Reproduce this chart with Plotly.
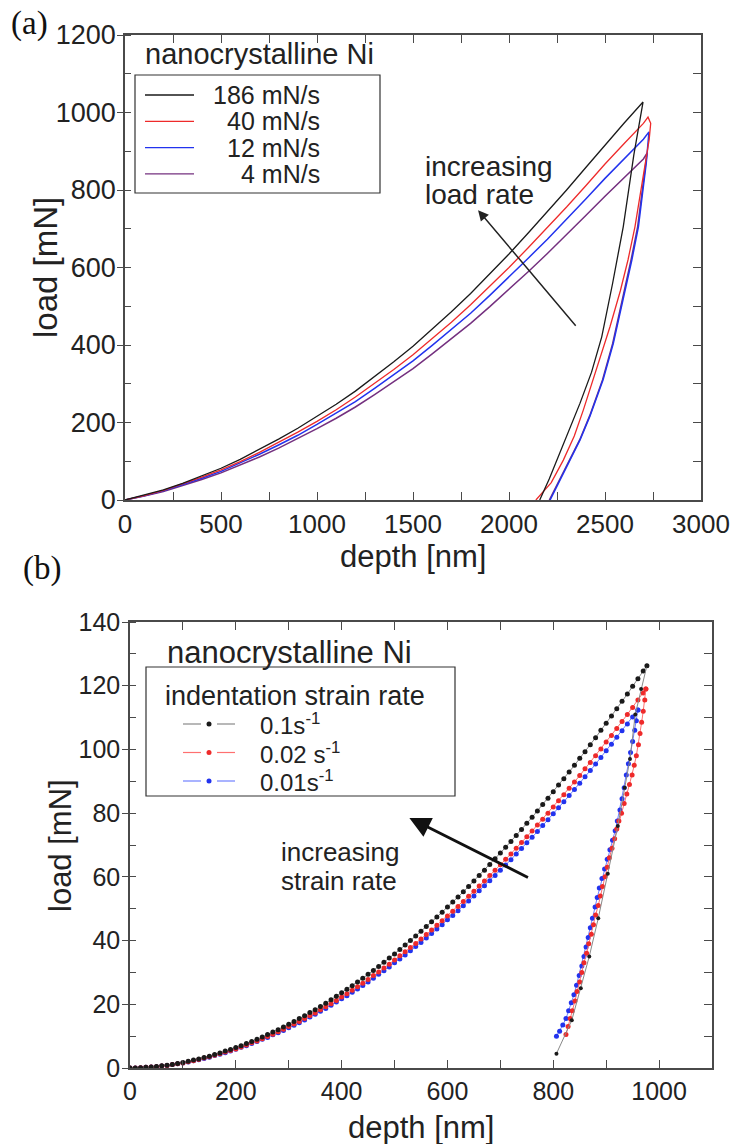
import plotly.graph_objects as go

W, H = 745, 1144

# ---------------- Panel (a) data: load–depth curves (nanocrystalline Ni) ----------------
A_BASE_DEPTH = [0, 100, 200, 300, 400, 500, 600, 700, 800, 900, 1000, 1100, 1200, 1300,
                1400, 1500, 1600, 1700, 1800, 1900, 2000, 2100, 2200, 2300, 2400, 2500, 2600]

A_BLACK_DEPTH = A_BASE_DEPTH + [2698, 2650, 2595, 2540, 2483, 2430, 2370, 2330, 2266, 2210, 2160]
A_BLACK_LOAD = [0, 12, 26, 43, 62, 82, 105, 130, 157, 185, 215, 247, 281, 318, 357, 397, 441,
                486, 533, 583, 635, 689, 744, 800, 858, 917, 973,
                1027, 890, 705, 560, 421, 330, 250, 200, 121, 55, 0]

A_RED_DEPTH = A_BASE_DEPTH + [2700, 2724, 2738, 2730, 2710, 2685, 2656, 2620, 2580, 2526,
                              2470, 2420, 2387, 2340, 2283, 2220, 2140]
A_RED_LOAD = [0, 11, 25, 41, 59, 78, 99, 123, 148, 175, 203, 233, 266, 301, 337, 375, 417,
              459, 504, 551, 600, 651, 703, 756, 811, 867, 920,
              972, 988, 972, 930, 870, 790, 705, 620, 540, 447, 360, 285, 232, 165, 103, 45, 0]

A_BLUE_DEPTH = A_BASE_DEPTH + [2700, 2729, 2715, 2695, 2674, 2640, 2600, 2543, 2490, 2422,
                               2370, 2318, 2265, 2214]
A_BLUE_LOAD = [0, 11, 24, 39, 56, 74, 95, 118, 142, 167, 195, 224, 254, 288, 323, 359, 399,
               440, 482, 528, 575, 624, 673, 724, 777, 830, 881,
               931, 950, 870, 790, 705, 620, 530, 404, 310, 217, 155, 103, 50, 0]

A_PURPLE_DEPTH = A_BASE_DEPTH + [2700, 2719, 2705, 2690, 2670, 2636, 2596, 2540, 2487, 2420,
                                 2368, 2315, 2262, 2210]
A_PURPLE_LOAD = [0, 10, 22, 37, 53, 70, 90, 111, 134, 158, 184, 211, 240, 272, 305, 339, 377,
                 416, 456, 499, 543, 589, 636, 684, 734, 784, 832,
                 880, 895, 840, 780, 705, 620, 530, 404, 310, 217, 155, 103, 50, 0]

A_LEGEND = ["186 mN/s", "40 mN/s", "12 mN/s", "4 mN/s"]

# ---------------- Panel (b) data ----------------
B_DEPTH = [0, 10, 20, 30, 40, 50, 60, 70, 80, 90,
           100, 110, 120, 130, 140, 150, 160, 170, 180, 190,
           200, 210, 220, 230, 240, 250, 260, 270, 280, 290,
           300, 310, 320, 330, 340, 350, 360, 370, 380, 390,
           400, 410, 420, 430, 440, 450, 460, 470, 480, 490,
           500, 510, 520, 530, 540, 550, 560, 570, 580, 590,
           600, 610, 620, 630, 640, 650, 660, 670, 680, 690,
           700, 710, 720, 730, 740, 750, 760, 770, 780, 790,
           800, 810, 820, 830, 840, 850, 860, 870, 880, 890,
           900, 910, 920, 930, 940, 950, 960, 970]

B_BLACK_LOAD = [0.0, 0.0, 0.1, 0.2, 0.3, 0.5, 0.7, 0.9, 1.1, 1.4,
                1.7, 2.1, 2.5, 2.8, 3.3, 3.7, 4.2, 4.7, 5.3, 5.8,
                6.4, 7.0, 7.7, 8.3, 9.0, 9.7, 10.5, 11.3, 12.0, 12.9,
                13.7, 14.6, 15.5, 16.4, 17.4, 18.3, 19.3, 20.3, 21.4, 22.5,
                23.6, 24.7, 25.8, 27.0, 28.2, 29.4, 30.6, 31.9, 33.2, 34.5,
                35.8, 37.2, 38.6, 40.0, 41.4, 42.9, 44.4, 45.9, 47.4, 48.9,
                50.5, 52.1, 53.7, 55.3, 57.0, 58.7, 60.4, 62.1, 63.9, 65.7,
                67.5, 69.3, 71.1, 73.0, 74.9, 76.8, 78.7, 80.7, 82.7, 84.7,
                86.7, 88.8, 90.8, 92.9, 95.0, 97.2, 99.3, 101.5, 103.7, 106.0,
                108.2, 110.5, 112.8, 115.1, 117.4, 119.8, 122.2, 124.6]
B_BLACK_PEAK_DEPTH = [977]
B_BLACK_PEAK_LOAD = [126.3]

B_RED_LOAD = [0.0, 0.0, 0.1, 0.2, 0.3, 0.4, 0.6, 0.8, 1.1, 1.3,
              1.6, 2.0, 2.3, 2.7, 3.1, 3.5, 4.0, 4.5, 5.0, 5.5,
              6.0, 6.6, 7.2, 7.9, 8.5, 9.2, 9.9, 10.6, 11.4, 12.2,
              13.0, 13.8, 14.6, 15.5, 16.4, 17.3, 18.3, 19.2, 20.2, 21.2,
              22.3, 23.3, 24.4, 25.5, 26.6, 27.8, 29.0, 30.1, 31.4, 32.6,
              33.9, 35.2, 36.5, 37.8, 39.1, 40.5, 41.9, 43.3, 44.8, 46.2,
              47.7, 49.2, 50.7, 52.3, 53.9, 55.5, 57.1, 58.7, 60.4, 62.1,
              63.8, 65.5, 67.2, 69.0, 70.8, 72.6, 74.4, 76.3, 78.1, 80.0,
              81.9, 83.9, 85.8, 87.8, 89.8, 91.8, 93.9, 95.9, 98.0, 100.1,
              102.3, 104.4, 106.6, 108.8, 111.0, 113.2, 115.5, 117.7]
B_RED_PEAK_DEPTH = [975]
B_RED_PEAK_LOAD = [119.0]

B_BLUE_LOAD = [0.0, 0.0, 0.1, 0.2, 0.3, 0.4, 0.6, 0.8, 1.1, 1.3,
               1.6, 1.9, 2.3, 2.6, 3.0, 3.4, 3.9, 4.3, 4.8, 5.3,
               5.9, 6.5, 7.0, 7.7, 8.3, 9.0, 9.6, 10.4, 11.1, 11.8,
               12.6, 13.4, 14.2, 15.1, 16.0, 16.9, 17.8, 18.7, 19.7, 20.7,
               21.7, 22.7, 23.8, 24.8, 25.9, 27.0, 28.2, 29.4, 30.5, 31.7,
               33.0, 34.2, 35.5, 36.8, 38.1, 39.4, 40.8, 42.2, 43.6, 45.0,
               46.5, 47.9, 49.4, 50.9, 52.4, 54.0, 55.6, 57.2, 58.8, 60.4,
               62.1, 63.7, 65.4, 67.2, 68.9, 70.7, 72.4, 74.2, 76.1, 77.9,
               79.8, 81.7, 83.6, 85.5, 87.4, 89.4, 91.4, 93.4, 95.4, 97.5,
               99.6, 101.6, 103.8, 105.9, 108.0, 110.2, 112.4]

B_BLACK_UNLOAD_DEPTH = [977, 966, 955, 945, 935, 922, 903, 885, 868, 852, 835, 806]
B_BLACK_UNLOAD_LOAD = [126.3, 119, 111, 97, 88, 76, 61, 47, 35, 25, 15, 4.5]

B_RED_UNLOAD_DEPTH = [975, 973, 970, 967, 964, 961, 957, 953, 949, 944, 939, 934, 929, 924,
                      920, 916, 911, 906, 902, 898, 893, 889, 885, 880, 876, 872, 867, 863,
                      858, 854, 850, 845, 841, 836, 832, 828, 824]
B_RED_UNLOAD_LOAD = [119.0, 115.5, 112, 108.5, 105, 101.5, 98, 95, 92, 89, 86, 83, 80, 77.5,
                     75, 72, 69, 66, 63, 60, 57, 54, 51, 48, 45, 42, 39, 36,
                     33, 30, 27, 24, 21, 18, 15.5, 13, 10.5]

B_BLUE_UNLOAD_DEPTH = [960, 957, 954, 950, 946, 942, 938, 934, 930, 926, 921, 917, 912, 907,
                       902, 897, 892, 887, 883, 879, 874, 870, 866, 862, 858, 854, 849, 844,
                       839, 834, 829, 824, 818, 812, 806]
B_BLUE_UNLOAD_LOAD = [112.4, 109, 106, 102.5, 99, 95.5, 92, 88, 84.5, 81, 77.5, 74.5, 71.5, 68.5,
                      65.5, 62.5, 59.5, 56.5, 53.5, 50.5, 47, 44, 41, 38, 35, 32, 29, 26,
                      23, 20.5, 18, 15.5, 13.5, 11.5, 10]

B_LEGEND = ["0.1s<sup>-1</sup>", "0.02 s<sup>-1</sup>", "0.01s<sup>-1</sup>"]

# ---------------- styling ----------------
FONT = "Liberation Sans, Arial, sans-serif"
SERIF = "Liberation Serif, Times New Roman, serif"
AX = "#4a4a4a"
C_BLACK = "#1a1a1a"
C_RED = "#ee2a2a"
C_BLUE = "#2233ee"
C_PURPLE = "#74307f"

fig = go.Figure()

# panel (a)
for xs, ys, c, w in [(A_PURPLE_DEPTH, A_PURPLE_LOAD, C_PURPLE, 1.5),
                     (A_BLUE_DEPTH, A_BLUE_LOAD, C_BLUE, 1.5),
                     (A_RED_DEPTH, A_RED_LOAD, C_RED, 1.3),
                     (A_BLACK_DEPTH, A_BLACK_LOAD, C_BLACK, 1.3)]:
    fig.add_trace(go.Scatter(x=xs, y=ys, mode="lines", line=dict(color=c, width=w),
                             xaxis="x", yaxis="y", showlegend=False, hoverinfo="skip"))

# panel (b)
def b_trace(xs, ys, lc, mc, ms=5):
    fig.add_trace(go.Scatter(x=xs, y=ys, mode="lines+markers",
                             line=dict(color=lc, width=1),
                             marker=dict(color=mc, size=ms),
                             xaxis="x2", yaxis="y2", showlegend=False, hoverinfo="skip"))

b_trace(B_DEPTH[:97], B_BLUE_LOAD, "#7080ff", C_BLUE)
b_trace(B_BLUE_UNLOAD_DEPTH, B_BLUE_UNLOAD_LOAD, "#7080ff", C_BLUE)
b_trace(B_DEPTH + B_RED_PEAK_DEPTH, B_RED_LOAD + B_RED_PEAK_LOAD, "#ff7070", C_RED)
b_trace(B_RED_UNLOAD_DEPTH, B_RED_UNLOAD_LOAD, "#ff7070", C_RED)
b_trace(B_DEPTH + B_BLACK_PEAK_DEPTH, B_BLACK_LOAD + B_BLACK_PEAK_LOAD, "#888888", C_BLACK)
b_trace(B_BLACK_UNLOAD_DEPTH, B_BLACK_UNLOAD_LOAD, "#888888", C_BLACK, 4)

# empty traces so the mirrored (top / right) tick axes are drawn
fig.add_trace(go.Scatter(x=[], y=[], xaxis="x3", yaxis="y3", showlegend=False))
fig.add_trace(go.Scatter(x=[], y=[], xaxis="x4", yaxis="y4", showlegend=False))

XA = [125 / W, 701 / W]
YA = [1 - 500 / H, 1 - 35 / H]
XB = [130 / W, 712 / W]
YB = [1 - 1068 / H, 1 - 622 / H]

base = dict(showgrid=False, zeroline=False, showline=True, linecolor=AX, linewidth=1.5,
            mirror=True, tickcolor=AX, tickwidth=1.3, automargin=False)
tick_a = dict(family=FONT, size=26, color="#222")
tick_b = dict(family=FONT, size=25, color="#222")
plain = dict(showgrid=False, zeroline=False, showline=False, showticklabels=False,
             tickcolor=AX, tickwidth=1.3, automargin=False)

fig.update_layout(
    template="none",
    width=W, height=H, margin=dict(l=0, r=0, t=0, b=0, pad=0, autoexpand=False),
    paper_bgcolor="white", plot_bgcolor="white", showlegend=False,
    xaxis=dict(base, domain=XA, anchor="y", range=[0, 3000], tick0=0, dtick=500,
               ticks="inside", ticklen=8, tickfont=tick_a,
               minor=dict(dtick=250, ticks="inside", ticklen=8, tickcolor=AX)),
    yaxis=dict(base, domain=YA, anchor="x", range=[0, 1200], tick0=0, dtick=200,
               ticks="outside", ticklen=6, tickfont=dict(tick_a, size=27), ticklabelstandoff=-4,
               minor=dict(dtick=100, ticks="inside", ticklen=6, tickcolor=AX)),
    xaxis3=dict(plain, overlaying="x", anchor="y", side="top", range=[0, 3000],
                tick0=0, dtick=250, ticks="inside", ticklen=8),
    yaxis3=dict(plain, overlaying="y", anchor="x", side="right", range=[0, 1200],
                tick0=0, dtick=100, ticks="inside", ticklen=8),
    xaxis2=dict(base, domain=XB, anchor="y2", range=[0, 1100], tick0=0, dtick=200,
                ticks="inside", ticklen=8, tickfont=tick_b,
                minor=dict(dtick=100, ticks="inside", ticklen=8, tickcolor=AX)),
    yaxis2=dict(base, domain=YB, anchor="x2", range=[0, 140], tick0=0, dtick=20,
                ticks="outside", ticklen=6, tickfont=tick_b, ticklabelstandoff=-3,
                minor=dict(dtick=10, ticks="inside", ticklen=6, tickcolor=AX)),
    xaxis4=dict(plain, overlaying="x2", anchor="y2", side="top", range=[0, 1100],
                tick0=0, dtick=100, ticks="inside", ticklen=8),
    yaxis4=dict(plain, overlaying="y2", anchor="x2", side="right", range=[0, 140],
                tick0=0, dtick=10, ticks="inside", ticklen=8),
)

anns = []
shapes = []

def px(x):
    return x / W

def py(y):
    return 1 - y / H

def text(t, x, y, size, xanchor="center", family=FONT, angle=0, color="#222"):
    anns.append(dict(text=t, x=px(x), y=py(y), xref="paper", yref="paper",
                     xanchor=xanchor, yanchor="middle", showarrow=False,
                     textangle=angle, font=dict(family=family, size=size, color=color)))

# panel labels
text("(a)", 30, 24, 33, family=SERIF, color="#111")
text("(b)", 42, 568, 33, family=SERIF, color="#111")

# axis titles
text("depth [nm]", 413, 556, 31)
text("load [mN]", 45, 268, 33, angle=-90)
text("depth [nm]", 421, 1127, 31)
text("load [mN]", 60, 845, 31, angle=-90)

# panel (a) legend
text("nanocrystalline Ni", 143, 54, 29, xanchor="left")
shapes.append(dict(type="rect", xref="paper", yref="paper", x0=px(135), x1=px(380),
                   y0=py(193), y1=py(75), line=dict(color="#333", width=1.2)))
for i, (lab, c) in enumerate(zip(A_LEGEND, [C_BLACK, C_RED, C_BLUE, C_PURPLE])):
    yy = 95 + i * 26.3
    shapes.append(dict(type="line", xref="paper", yref="paper", x0=px(145), x1=px(194),
                       y0=py(yy), y1=py(yy), line=dict(color=c, width=1.3)))
    anns.append(dict(text=lab, x=px(322), y=py(yy), xref="paper", yref="paper",
                     xanchor="right", yanchor="middle", showarrow=False,
                     font=dict(family=FONT, size=25, color="#222")))

# panel (b) legend
text("nanocrystalline Ni", 165, 652, 31, xanchor="left")
shapes.append(dict(type="rect", xref="paper", yref="paper", x0=px(146), x1=px(455),
                   y0=py(796), y1=py(667), line=dict(color="#333", width=1.2)))
text("indentation strain rate", 163, 696, 27, xanchor="left")
for i, (lab, lc, mc) in enumerate(zip(B_LEGEND, ["#888888", "#ff7070", "#7080ff"],
                                      [C_BLACK, C_RED, C_BLUE])):
    yy = 724 + i * 28.5
    for a0, a1 in [(183, 201), (217, 235)]:
        shapes.append(dict(type="line", xref="paper", yref="paper", x0=px(a0), x1=px(a1),
                           y0=py(yy), y1=py(yy), line=dict(color=lc, width=1.2)))
    shapes.append(dict(type="circle", xref="paper", yref="paper", x0=px(206.5), x1=px(211.5),
                       y0=py(yy + 2.5), y1=py(yy - 2.5), fillcolor=mc, line=dict(width=0)))
    text(lab, 258, yy, 24, xanchor="left")

# annotations inside plots
text("increasing", 423, 166, 28, xanchor="left")
text("load rate", 423, 195, 28, xanchor="left")
text("increasing", 279, 852, 26, xanchor="left")
text("strain rate", 279, 881, 26, xanchor="left")

# arrows
anns.append(dict(x=1839, y=748, ax=2354, ay=446, xref="x", yref="y", axref="x", ayref="y",
                 text="", showarrow=True, arrowhead=2, arrowsize=1.4, arrowwidth=1.5,
                 arrowcolor="#222"))
anns.append(dict(x=528, y=78.5, ax=755, ay=59.6, xref="x2", yref="y2", axref="x2", ayref="y2",
                 text="", showarrow=True, arrowhead=2, arrowsize=1.5, arrowwidth=2.8,
                 arrowcolor="#111"))

fig.update_layout(annotations=anns, shapes=shapes)
fig.write_html("out.html")
